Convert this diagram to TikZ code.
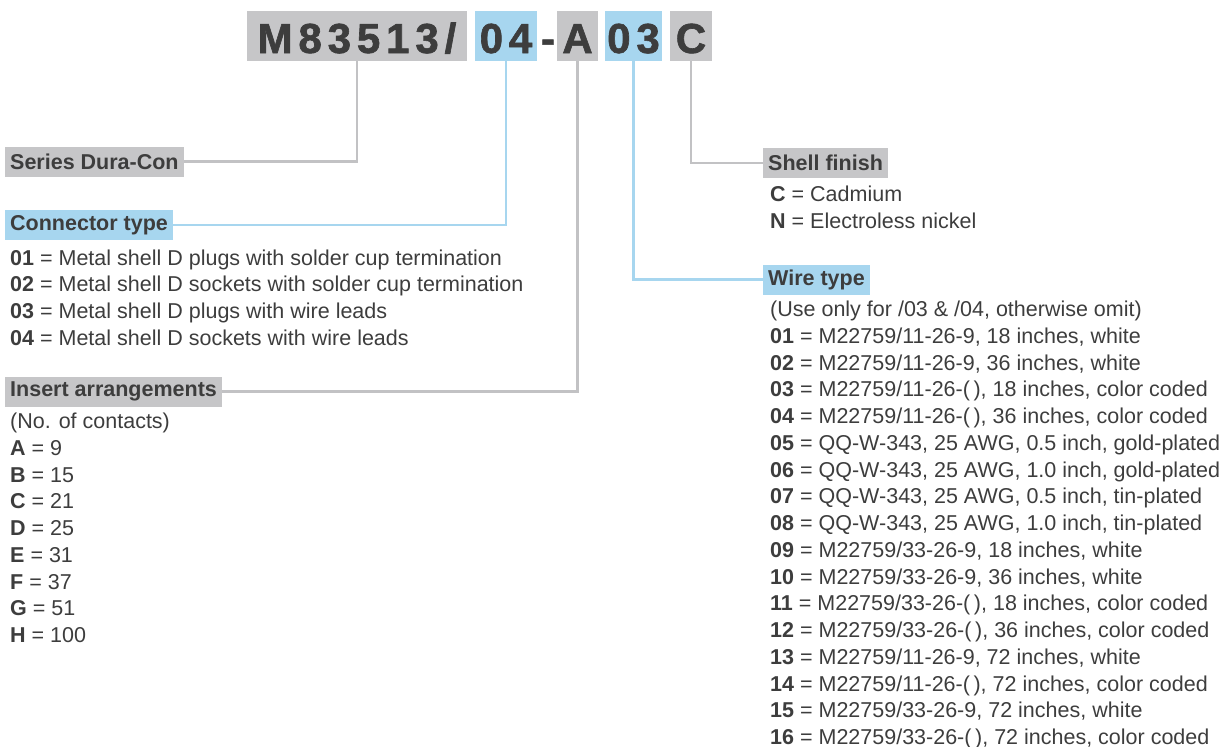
\documentclass[tikz,border=0pt]{standalone}
\usepackage{fontspec}
\setmainfont{Liberation Sans}
\newfontfamily\codefont[LetterSpace=14, BoldFeatures={FakeBold=1.5}]{Liberation Sans}
\usepackage{xcolor}
\usepackage{tikz}
\usetikzlibrary{positioning}

\definecolor{codegray}{HTML}{C6C6C8}
\definecolor{codeblue}{HTML}{A7D6EF}
\definecolor{inkgray}{HTML}{3D3D3D}
\definecolor{leadgray}{HTML}{C2C2C4}

\begin{document}
\begin{tikzpicture}[
    x=1pt, y=-1pt,
    codebox/.style={rectangle, minimum height=50pt, inner sep=0pt, text height=34pt, text depth=0pt, text=inkgray, font=\codefont\bfseries\fontsize{42}{42}\selectfont},
    headbox/.style={rectangle, anchor=west, minimum height=30pt, inner xsep=5pt, inner ysep=0pt, text=inkgray, font=\bfseries\fontsize{21.5}{25}\selectfont},
    item/.style={anchor=base west, inner sep=0pt, text=inkgray, font=\fontsize{21.5}{25}\selectfont},
    grayline/.style={draw=leadgray, line width=2.5pt},
    blueline/.style={draw=codeblue, line width=2.5pt}
]
\useasboundingbox (0,0) rectangle (1224,747);

% Part number
\node[codebox, fill=codegray, minimum width=220pt] (mcode) at (357,36) {M83513/};
\node[codebox, fill=codeblue, minimum width=62pt] (typecode) at (506,36) {04};
\node[codebox] (dash) at (548,36) {-};
\node[codebox, fill=codegray, minimum width=41pt] (arrcode) at (577.5,36) {A};
\node[codebox, fill=codeblue, minimum width=57pt] (wirecode) at (633.5,36) {03};
\node[codebox, fill=codegray, minimum width=42pt] (finishcode) at (691,36) {C};

% Headings
\node[headbox, fill=codegray] (serieshead) at (5,161.5) {Series Dura-Con};
\node[headbox, fill=codeblue] (typehead) at (5,225) {Connector type};
\node[headbox, fill=codegray] (arrhead) at (5,391.5) {Insert arrangements};
\node[headbox, fill=codegray] (finishhead) at (763,163) {Shell finish};
\node[headbox, fill=codeblue] (wirehead) at (763,279.5) {Wire type};

% Leader lines
\draw[grayline] (mcode.south) |- (serieshead.east);
\draw[blueline] (typecode.south) |- (typehead.east);
\draw[grayline] (arrcode.south) |- (arrhead.east);
\draw[blueline] (wirecode.south) |- (wirehead.west);
\draw[grayline] (finishcode.south) |- (finishhead.west);

% Connector type list
\foreach \k/\v [count=\i from 0] in {
    01/Metal shell D plugs with solder cup termination,
    02/Metal shell D sockets with solder cup termination,
    03/Metal shell D plugs with wire leads,
    04/Metal shell D sockets with wire leads}
  \node[item] (type\k) at (10,265+26.75*\i) {\textbf{\k} = \v};

% Insert arrangements list
\node[item] (arrnote) at (10,428.5) {(No. of contacts)};
\foreach \k/\v [count=\i from 1] in {A/9, B/15, C/21, D/25, E/31, F/37, G/51, H/100}
  \node[item] (arr\k) at (10,428.5+26.75*\i) {\textbf{\k} = \v};

% Shell finish list
\node[item] (finishC) at (770,201.5) {\textbf{C} = Cadmium};
\node[item] (finishN) at (770,228.25) {\textbf{N} = Electroless nickel};

% Wire type list
\node[item] (wirenote) at (770,316.5) {(Use only for /03 \& /04, otherwise omit)};
\foreach \k/\v [count=\i from 1] in {
    01/{M22759/11-26-9, 18 inches, white},
    02/{M22759/11-26-9, 36 inches, white},
    03/{M22759/11-26-(\,), 18 inches, color coded},
    04/{M22759/11-26-(\,), 36 inches, color coded},
    05/{QQ-W-343, 25 AWG, 0.5 inch, gold-plated},
    06/{QQ-W-343, 25 AWG, 1.0 inch, gold-plated},
    07/{QQ-W-343, 25 AWG, 0.5 inch, tin-plated},
    08/{QQ-W-343, 25 AWG, 1.0 inch, tin-plated},
    09/{M22759/33-26-9, 18 inches, white},
    10/{M22759/33-26-9, 36 inches, white},
    11/{M22759/33-26-(\,), 18 inches, color coded},
    12/{M22759/33-26-(\,), 36 inches, color coded},
    13/{M22759/11-26-9, 72 inches, white},
    14/{M22759/11-26-(\,), 72 inches, color coded},
    15/{M22759/33-26-9, 72 inches, white},
    16/{M22759/33-26-(\,), 72 inches, color coded}}
  \node[item] (wire\k) at (770,316.5+26.75*\i) {\textbf{\k} = \v};

\end{tikzpicture}
\end{document}
